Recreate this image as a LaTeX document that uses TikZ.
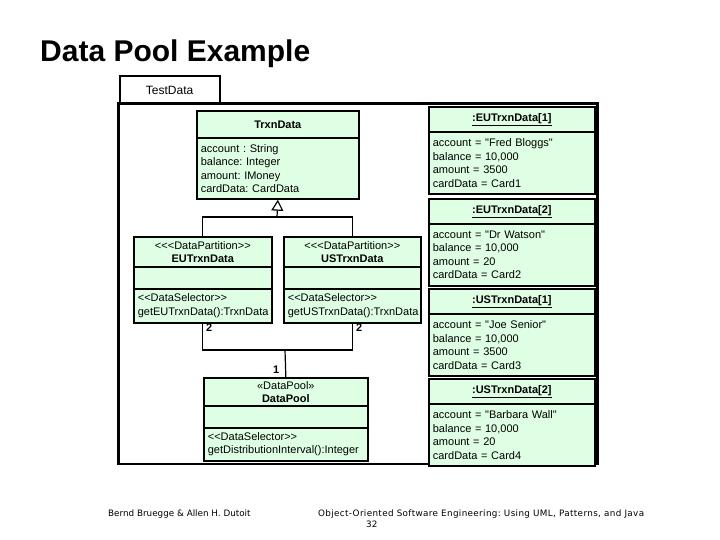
\documentclass[tikz,border=0pt]{standalone}
\usepackage{fontspec}
\setmainfont{Liberation Sans}[Ligatures=TeXOff]
\newfontfamily\footfont{DejaVu Sans}
\usepackage{tikz}
\usetikzlibrary{arrows.meta}
\definecolor{umlgreen}{RGB}{222,255,228}
\frenchspacing

\begin{document}
\begin{tikzpicture}[x=1pt,y=-1pt,font=\fontsize{11}{13.5}\selectfont]
  \tikzset{umlbox/.style={draw,fill=umlgreen,line width=1.7pt,anchor=north west,inner xsep=4pt,inner ysep=1pt},
    headbox/.style={umlbox,align=center},
    partbox/.style={umlbox,align=left},
    link/.style={draw,line width=1.2pt},
    mult/.style={font=\fontsize{11}{13}\selectfont\bfseries,inner sep=0pt,anchor=north west},
    foot/.style={font=\footfont\fontsize{8.8}{10}\selectfont,inner sep=0pt,anchor=west}}
  \useasboundingbox (0,0) rectangle (720,540);
  % ---------------- title
  \node[anchor=base west,inner sep=0pt,font=\fontsize{30}{36}\selectfont\bfseries] (title) at (40,62) {Data Pool Example};
  % ---------------- package frame
  \draw[line width=2.8pt] (118.5,103.5) rectangle (597.5,464);
  \node[draw,line width=2.2pt,anchor=north west,minimum width=100pt,minimum height=28pt,font=\fontsize{12}{14}\selectfont] (testTab) at (118.5,75) {TestData};
  % ---------------- TrxnData
  \node[headbox,text width=154pt,minimum height=27pt] (trxnHead) at (196,110) {\textbf{TrxnData}};
  \node[partbox,text width=154pt,minimum height=61pt] (trxnAttr) at (196,137) {account : String\\balance: Integer\\amount: IMoney\\cardData: CardData};
  % ---------------- partitions
  \node[headbox,text width=130pt,minimum height=30pt] (euHead) at (133,236) {<<<DataPartition>>\\\textbf{EUTrxnData}};
  \node[partbox,text width=130pt,minimum height=22pt] (euAttr) at (133,266) {};
  \node[partbox,text width=130pt,minimum height=34pt] (euMeth) at (133,288) {<<DataSelector>>\\getEUTrxnData():TrxnData};
  \node[headbox,text width=129pt,minimum height=30pt] (usHead) at (283,236) {<<<DataPartition>>\\\textbf{USTrxnData}};
  \node[partbox,text width=129pt,minimum height=22pt] (usAttr) at (283,266) {};
  \node[partbox,text width=129pt,minimum height=34pt] (usMeth) at (283,288) {<<DataSelector>>\\getUSTrxnData():TrxnData};
  % ---------------- DataPool
  \node[headbox,text width=156pt,minimum height=28pt] (poolHead) at (203,377) {«DataPool»\\\textbf{DataPool}};
  \node[partbox,text width=156pt,minimum height=22pt] (poolAttr) at (203,405) {};
  \node[partbox,text width=156pt,minimum height=33pt] (poolMeth) at (203,427) {<<DataSelector>>\\getDistributionInterval():Integer};
  % ---------------- generalization
  \coordinate (genJoin) at (277,217);
  \draw[link] (euHead.north) |- (genJoin) -| (usHead.north);
  \draw[link,-{Triangle[length=11pt,width=12pt,fill=white]}] (genJoin) -- (trxnAttr.south);
  % ---------------- association
  \coordinate (assocJoin) at (285,350);
  \draw[link] (euMeth.south) |- (assocJoin) -| (usMeth.south);
  \draw[link] (assocJoin) -- (poolHead.north);
  \node[mult] (euMult) at (206,324) {2};
  \node[mult] (usMult) at (356,324) {2};
  \node[mult] (poolMult) at (273,366) {1};
  % ---------------- objects
  \foreach \obj/\ttl/\who/\amt/\crd/\top in {euObjA/{:EUTrxnData[1]}/{Fred Bloggs}/3500/Card1/106,
      euObjB/{:EUTrxnData[2]}/{Dr Watson}/20/Card2/198,
      usObjA/{:USTrxnData[1]}/{Joe Senior}/3500/Card3/288,
      usObjB/{:USTrxnData[2]}/{Barbara Wall}/20/Card4/378} {
    \node[headbox,text width=158pt,minimum height=25pt] (\obj Head) at (428,\top) {\underline{\textbf{\ttl}}};
    \node[partbox,text width=158pt,minimum height=62pt] (\obj Attr) at (428,\top+25) {account = "\who"\\balance = 10,000\\amount = \amt\\cardData = \crd};
  }
  % ---------------- footer
  \node[foot] (authors) at (108,514) {Bernd Bruegge \& Allen H. Dutoit};
  \node[foot] (book) at (318,514) {\addfontfeature{LetterSpace=4}Object-Oriented Software Engineering: Using UML, Patterns, and Java};
  \node[foot] (page) at (366,524) {32};
\end{tikzpicture}
\end{document}
